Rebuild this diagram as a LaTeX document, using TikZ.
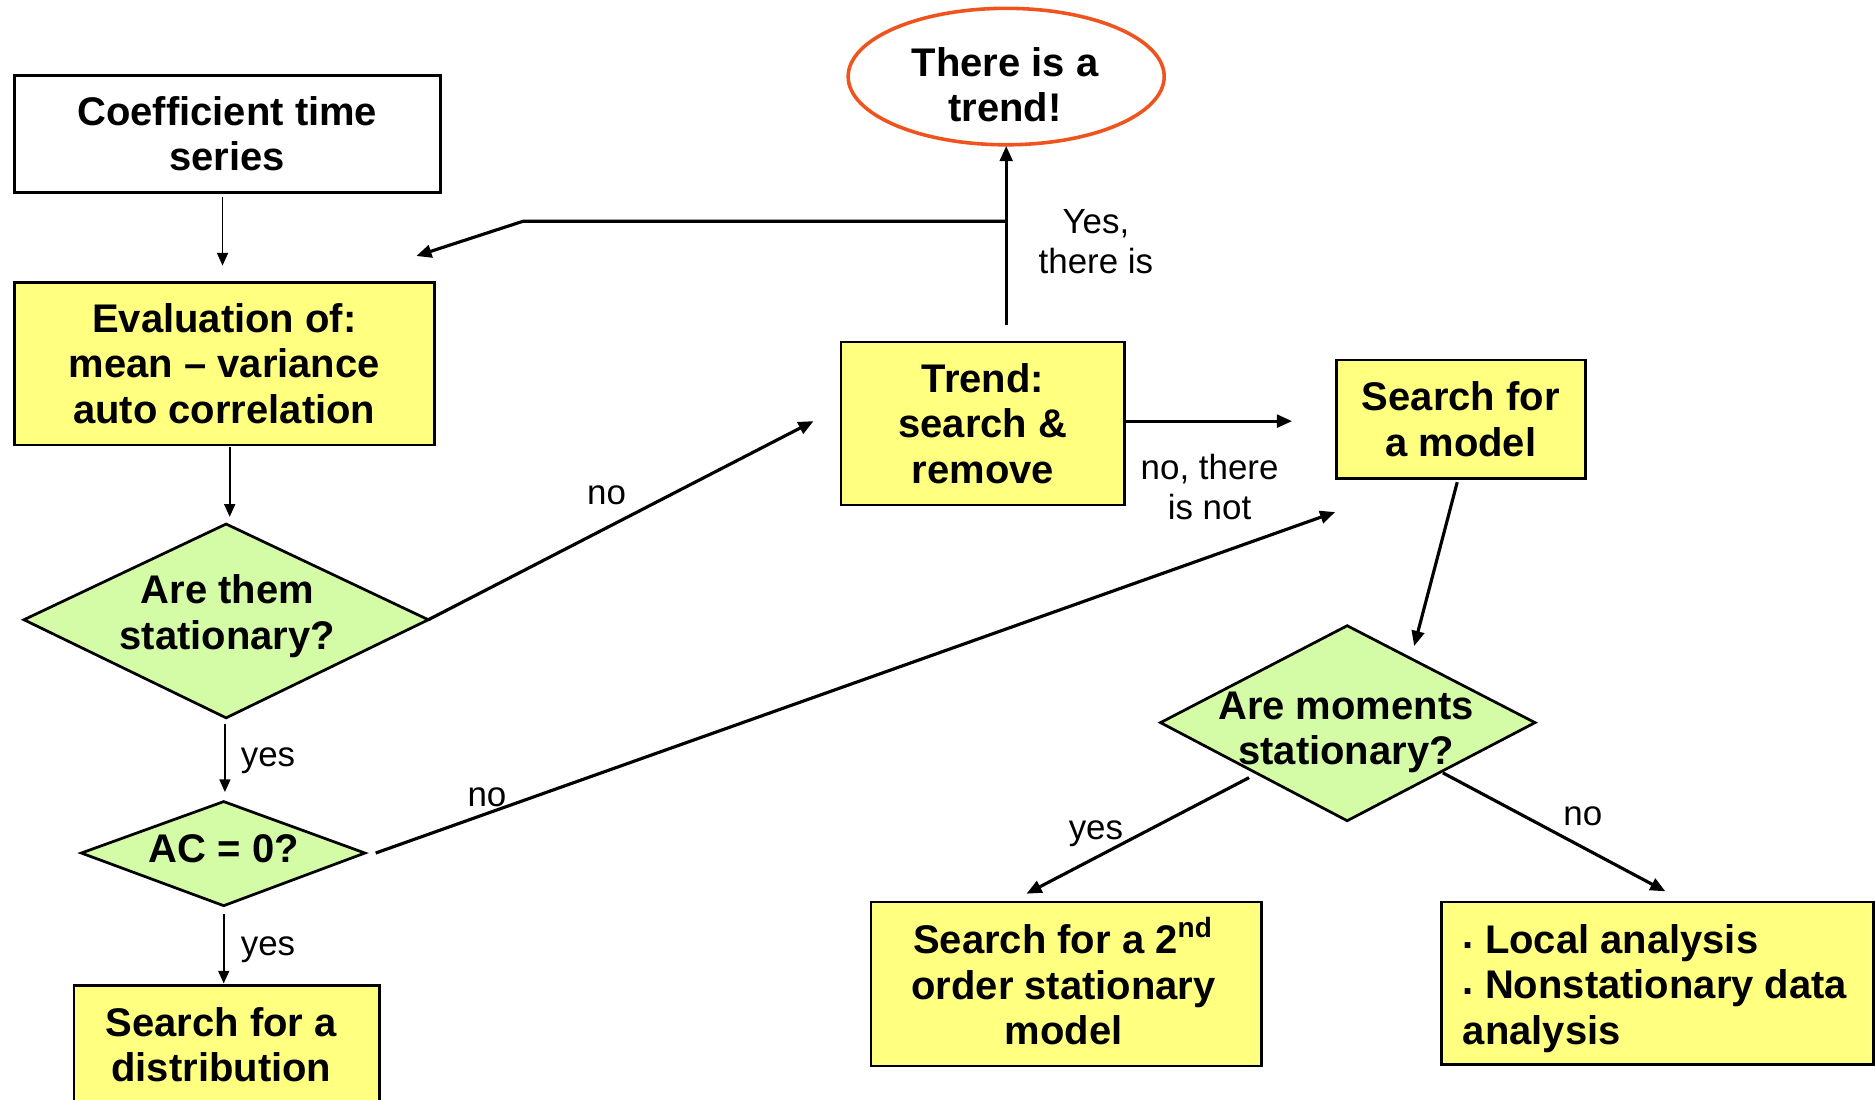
\documentclass[tikz,border=0pt]{standalone}
\usepackage{fontspec}
\setmainfont{Liberation Sans}
\usetikzlibrary{arrows.meta,shapes.geometric}
\definecolor{boxyellow}{RGB}{255,255,128}
\definecolor{diagreen}{RGB}{212,252,166}
\definecolor{trendred}{RGB}{240,84,30}
\begin{document}
\begin{tikzpicture}[x=0.01cm,y=-0.01cm,
  box/.style={draw=black,line width=0.65pt,fill=boxyellow,inner sep=0pt,align=center,
    font=\bfseries\fontsize{9.5}{10.8}\selectfont},
  whitebox/.style={box,fill=white},
  diam/.style={draw=black,line width=0.65pt,fill=diagreen,line join=miter},
  txt/.style={inner sep=0pt,align=center,font=\bfseries\fontsize{9.5}{10.8}\selectfont},
  lab/.style={inner sep=0pt,align=center,font=\fontsize{8.3}{9.4}\selectfont},
  thinarrow/.style={line width=0.4pt,-{Triangle[length=3pt,width=2.6pt]}},
  thickarrow/.style={line width=0.75pt,-{Triangle[length=3.6pt,width=3pt]}}
]
\useasboundingbox (0,0) rectangle (1568,919);
\clip (0,0) rectangle (1568,919);

% boxes
\node[whitebox,minimum width=3.56cm,minimum height=0.98cm] (coef) at (190,112) {Coefficient time\\series};
\node[box,minimum width=3.51cm,minimum height=1.36cm] (eval) at (187.5,304) {Evaluation of:\\mean -- variance\\auto correlation};
\node[box,minimum width=2.37cm,minimum height=1.36cm] (trend) at (821.5,354) {Trend:\\search \&\\remove};
\node[box,minimum width=2.08cm,minimum height=0.99cm] (model) at (1221,350.5) {Search for\\a model};
\node[box,minimum width=2.55cm,minimum height=1.2cm] (dist) at (189.5,884) {};
\node[txt] (disttxt) at (185,873) {Search for a\\distribution};
\node[box,minimum width=3.26cm,minimum height=1.37cm] (second) at (891,822.5) {};
\node[txt] (secondtxt) at (889,820) {Search for a 2\textsuperscript{nd}\\order stationary\\model};
\node[box,minimum width=3.61cm,minimum height=1.36cm] (local) at (1385.5,822) {};
\node[txt,align=left,anchor=west] (localtxt) at (1222,826) {\raisebox{1pt}{.} Local analysis\\\raisebox{1pt}{.} Nonstationary data\\analysis};

% ellipse
\node[draw=trendred,line width=0.85pt,ellipse,fill=white,inner sep=0pt,minimum width=2.64cm,minimum height=1.14cm] (ell) at (841,64) {};
\node[txt] (elltxt) at (840,71) {There is a\\trend!};

% diamonds
\draw[diam] (20,518) -- (189,438) -- (358,518) -- (189,600) -- cycle;
\node[txt] (stat) at (190,515) {Are them\\stationary?};
\draw[diam] (68,713) -- (187,670) -- (305,713) -- (187,757) -- cycle;
\node[txt] (ac) at (187,709) {AC = 0?};
\draw[diam] (970,604) -- (1126,523) -- (1283,604) -- (1126,686) -- cycle;
\node[txt] (mom) at (1125,612) {Are moments\\stationary?};

% connector end points
\coordinate (c1a) at (186,165); \coordinate (c1b) at (186,222);
\coordinate (c2a) at (192,374); \coordinate (c2b) at (192,432);
\coordinate (c3a) at (358,518); \coordinate (c3b) at (680,352);
\coordinate (c4a) at (841,272); \coordinate (c4b) at (841,122);
\coordinate (c5a) at (841,185); \coordinate (c5m) at (437,185); \coordinate (c5b) at (348,214);
\coordinate (c6a) at (940,352); \coordinate (c6b) at (1080,352);
\coordinate (c7a) at (1218,403); \coordinate (c7b) at (1182,540);
\coordinate (c8a) at (188,605); \coordinate (c8b) at (188,662);
\coordinate (c9a) at (314,713); \coordinate (c9b) at (1116,428);
\coordinate (c10a) at (187,764); \coordinate (c10b) at (187,822);
\coordinate (c11a) at (1044,650); \coordinate (c11b) at (858,747);
\coordinate (c12a) at (1206,646); \coordinate (c12b) at (1392,745);

\draw[thinarrow] (c1a) -- (c1b);
\draw[thinarrow] (c2a) -- (c2b);
\draw[thickarrow] (c3a) -- (c3b);
\draw[thickarrow] (c4a) -- (c4b);
\draw[thickarrow,line join=miter] (c5a) -- (c5m) -- (c5b);
\draw[thickarrow] (c6a) -- (c6b);
\draw[thickarrow] (c7a) -- (c7b);
\draw[thinarrow] (c8a) -- (c8b);
\draw[thickarrow] (c9a) -- (c9b);
\draw[thinarrow] (c10a) -- (c10b);
\draw[thickarrow] (c11a) -- (c11b);
\draw[thickarrow] (c12a) -- (c12b);

% labels
\node[lab] (l3) at (507,414) {no};
\node[lab] (l4) at (916,202) {Yes,\\there is};
\node[lab] (l6) at (1011,407) {no, there\\is not};
\node[lab] (l8) at (224,636) {yes};
\node[lab] (l9) at (407,666) {no};
\node[lab] (l10) at (224,794) {yes};
\node[lab] (l11) at (916,697) {yes};
\node[lab] (l12) at (1323,682) {no};
\end{tikzpicture}
\end{document}
